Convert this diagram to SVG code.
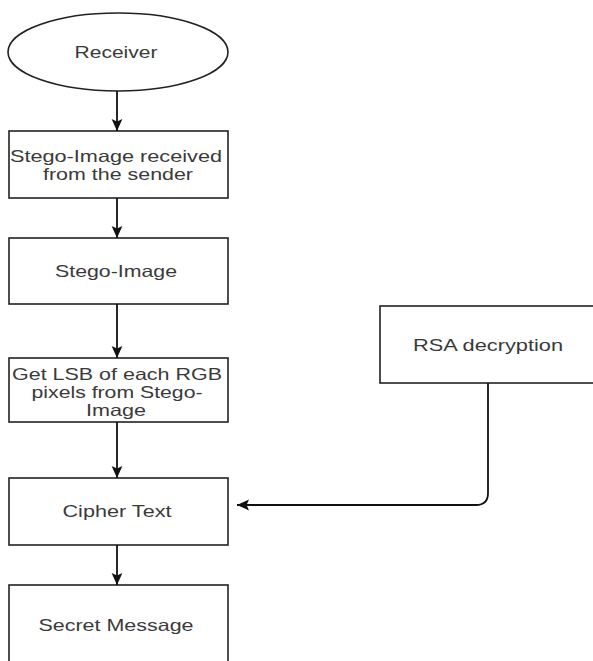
<svg xmlns="http://www.w3.org/2000/svg" width="593" height="661" viewBox="0 0 593 661">
<defs>
<style>
.box{fill:#fff;stroke:#222;stroke-width:1.6}
.lbl{font-family:"Liberation Sans",Arial,sans-serif;font-size:16.5px;fill:#3a3a3a;text-anchor:middle}
.edge{fill:none;stroke:#111;stroke-width:1.8}
</style>
<marker id="arr" viewBox="0 0 10 10" refX="10" refY="5" markerWidth="12" markerHeight="12" markerUnits="userSpaceOnUse" orient="auto">
<path d="M0,0.5 L10,5 L0,9.5 L2,5 Z" fill="#111"/>
</marker>
</defs>
<rect width="593" height="661" fill="#fff"/>
<g id="receiver">
<ellipse class="box" cx="118" cy="52" rx="110" ry="39"/>
<text class="lbl" x="116" y="58" textLength="83" lengthAdjust="spacingAndGlyphs">Receiver</text>
</g>
<g id="stego-received">
<rect class="box" x="9" y="131" width="219" height="67"/>
<text class="lbl" x="116" y="162" textLength="212" lengthAdjust="spacingAndGlyphs">Stego-Image received</text>
<text class="lbl" x="118" y="180" textLength="150" lengthAdjust="spacingAndGlyphs">from the sender</text>
</g>
<g id="stego-image">
<rect class="box" x="9" y="238" width="219" height="66"/>
<text class="lbl" x="116" y="277" textLength="122" lengthAdjust="spacingAndGlyphs">Stego-Image</text>
</g>
<g id="get-lsb">
<rect class="box" x="9" y="358" width="219" height="64"/>
<text class="lbl" x="117" y="380" textLength="210" lengthAdjust="spacingAndGlyphs">Get LSB of each RGB</text>
<text class="lbl" x="117" y="398" textLength="171" lengthAdjust="spacingAndGlyphs">pixels from Stego-</text>
<text class="lbl" x="116" y="416" textLength="60" lengthAdjust="spacingAndGlyphs">Image</text>
</g>
<g id="cipher-text">
<rect class="box" x="9" y="478" width="219" height="67"/>
<text class="lbl" x="117" y="517" textLength="109" lengthAdjust="spacingAndGlyphs">Cipher Text</text>
</g>
<g id="secret-message">
<rect class="box" x="9" y="585" width="219" height="90"/>
<text class="lbl" x="116" y="631" textLength="155" lengthAdjust="spacingAndGlyphs">Secret Message</text>
</g>
<g id="rsa-decryption">
<rect class="box" x="380" y="306" width="230" height="77"/>
<text class="lbl" x="488" y="351" textLength="150" lengthAdjust="spacingAndGlyphs">RSA decryption</text>
</g>
<g id="connectors">
<path class="edge" d="M117,91 V131" marker-end="url(#arr)"/>
<path class="edge" d="M117,198 V238" marker-end="url(#arr)"/>
<path class="edge" d="M117,304 V358" marker-end="url(#arr)"/>
<path class="edge" d="M117,422 V478" marker-end="url(#arr)"/>
<path class="edge" d="M117,545 V585" marker-end="url(#arr)"/>
<path class="edge" d="M488,383 V493 Q488,505 476,505 H237" marker-end="url(#arr)"/>
</g>
</svg>
